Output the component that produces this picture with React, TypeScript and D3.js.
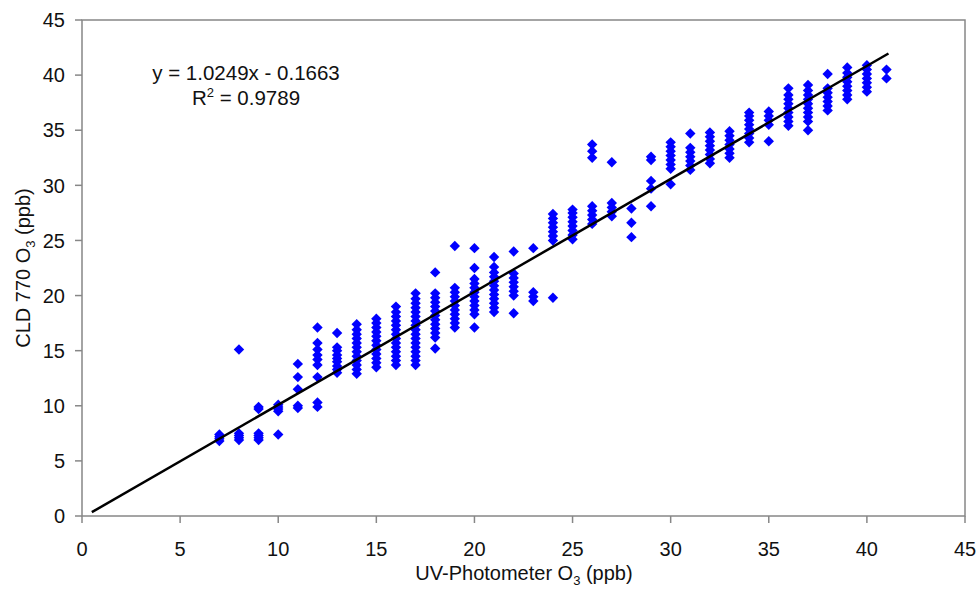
import React from "react";
import * as d3 from "d3";

// UV-Photometer O3 (ppb) columns
const xValues = [7, 8, 9, 10, 11, 12, 13, 14, 15, 16, 17, 18, 19, 20, 21, 22, 23, 24, 25, 26, 27, 28, 29, 30, 31, 32, 33, 34, 35, 36, 37, 38, 39, 40, 41];

// CLD 770 O3 (ppb) readings for each column
const yValues: number[][] = [
  [6.8, 7.0, 7.2, 7.4],
  [6.9, 7.1, 7.3, 7.5, 15.1],
  [6.9, 7.1, 7.3, 7.5, 9.7, 9.9],
  [7.4, 9.5, 9.7, 9.9, 10.1],
  [9.8, 10.0, 11.5, 12.6, 13.8],
  [9.9, 10.3, 12.6, 13.7, 14.2, 14.6, 15.1, 15.7, 17.1],
  [13.0, 13.3, 13.6, 14.0, 14.3, 14.6, 15.0, 15.3, 16.6],
  [12.9, 13.3, 13.7, 14.1, 14.5, 14.9, 15.3, 15.7, 16.1, 16.5, 16.9, 17.4],
  [13.5, 13.9, 14.3, 14.7, 15.1, 15.5, 15.9, 16.3, 16.7, 17.1, 17.5, 17.9],
  [13.7, 14.1, 14.5, 14.9, 15.3, 15.7, 16.1, 16.5, 16.9, 17.3, 17.7, 18.1, 18.5, 19.0],
  [13.7, 14.1, 14.5, 14.9, 15.3, 15.7, 16.1, 16.5, 16.9, 17.3, 17.7, 18.1, 18.5, 18.9, 19.3, 19.7, 20.2],
  [15.2, 16.2, 16.6, 17.0, 17.4, 17.8, 18.2, 18.6, 19.0, 19.4, 19.8, 20.2, 22.1],
  [17.1, 17.5, 17.9, 18.3, 18.7, 19.1, 19.5, 19.9, 20.3, 20.7, 24.5],
  [17.1, 18.3, 18.7, 19.1, 19.5, 19.9, 20.3, 20.7, 21.1, 21.5, 22.5, 24.3],
  [18.5, 18.9, 19.3, 19.7, 20.1, 20.5, 20.9, 21.3, 21.7, 22.1, 22.6, 23.5],
  [18.4, 20.0, 20.4, 20.8, 21.2, 21.6, 22.0, 24.0],
  [19.5, 19.9, 20.3, 24.3],
  [19.8, 25.0, 25.4, 25.8, 26.2, 26.6, 27.0, 27.4],
  [25.1, 25.5, 25.9, 26.3, 26.7, 27.1, 27.5, 27.8],
  [26.5, 26.9, 27.3, 27.7, 28.1, 32.5, 33.1, 33.7],
  [27.2, 27.6, 28.0, 28.4, 32.1],
  [25.3, 26.6, 27.9],
  [28.1, 29.7, 30.4, 32.3, 32.6],
  [30.1, 31.5, 31.9, 32.3, 32.7, 33.1, 33.5, 33.9],
  [31.4, 31.8, 32.2, 32.6, 33.0, 33.4, 34.7],
  [32.0, 32.4, 32.8, 33.2, 33.6, 34.0, 34.4, 34.8],
  [32.5, 32.9, 33.3, 33.7, 34.1, 34.5, 34.9],
  [33.9, 34.3, 34.7, 35.1, 35.5, 35.9, 36.3, 36.6],
  [34.0, 35.5, 35.9, 36.3, 36.7],
  [35.4, 35.8, 36.2, 36.6, 37.0, 37.4, 37.8, 38.2, 38.8],
  [35.0, 35.8, 36.2, 36.6, 37.0, 37.4, 37.8, 38.2, 38.6, 39.1],
  [36.8, 37.2, 37.6, 38.0, 38.4, 38.8, 40.1],
  [37.8, 38.2, 38.6, 39.0, 39.4, 39.8, 40.2, 40.7],
  [38.5, 38.9, 39.3, 39.7, 40.1, 40.5, 40.9],
  [39.7, 40.5],
];

const xTicks = [0, 5, 10, 15, 20, 25, 30, 35, 40, 45];
const yTicks = [0, 5, 10, 15, 20, 25, 30, 35, 40, 45];

const slope = 1.0249;
const intercept = -0.1663;
const fitRange = [0.5, 41.1];

const equationText = "y = 1.0249x - 0.1663";
const r2Value = "0.9789";

const W = 979;
const H = 590;
const left = 82;
const right = 965;
const top = 20;
const bottom = 516;

const FONT = "'Liberation Sans', Arial, Helvetica, sans-serif";
const FS = 20;

export default function App() {
  const x = d3.scaleLinear().domain([0, 45]).range([left, right]);
  const y = d3.scaleLinear().domain([0, 45]).range([bottom, top]);

  const points: { px: number; py: number }[] = [];
  xValues.forEach((xv, i) => {
    yValues[i].forEach((yv) => points.push({ px: x(xv), py: y(yv) }));
  });

  const r = 5.2;
  const diamond = `M0,${-r}L${r},0L0,${r}L${-r},0Z`;
  const line = d3
    .line<number>()
    .x((d) => x(d))
    .y((d) => y(slope * d + intercept));

  const axisColor = "#878787";

  return (
    <svg
      width={W}
      height={H}
      style={{ position: "absolute", left: 0, top: 0, background: "#fff" }}
      fontFamily={FONT}
    >
      <rect x={0} y={0} width={W} height={H} fill="#fff" />
      <rect
        x={left}
        y={top}
        width={right - left}
        height={bottom - top}
        fill="none"
        stroke={axisColor}
        strokeWidth={1.5}
      />
      {yTicks.map((t) => (
        <g key={"y" + t}>
          <line x1={left - 7} x2={left} y1={y(t)} y2={y(t)} stroke={axisColor} strokeWidth={1.5} />
          <text x={left - 17} y={y(t)} dy="0.36em" textAnchor="end" fontSize={FS} fill="#111">
            {t}
          </text>
        </g>
      ))}
      {xTicks.map((t) => (
        <g key={"x" + t}>
          <line x1={x(t)} x2={x(t)} y1={bottom} y2={bottom + 7} stroke={axisColor} strokeWidth={1.5} />
          <text x={x(t)} y={bottom + 40} textAnchor="middle" fontSize={FS} fill="#111">
            {t}
          </text>
        </g>
      ))}
      {points.map((p, i) => (
        <path key={i} d={diamond} transform={`translate(${p.px},${p.py})`} fill="#0000ff" />
      ))}
      <path d={line(fitRange) || ""} stroke="#000" strokeWidth={2.5} fill="none" />
      <text x={246} y={80} textAnchor="middle" fontSize={20.5} fill="#111">
        {equationText}
      </text>
      <text x={246} y={105} textAnchor="middle" fontSize={20.5} fill="#111">
        R<tspan dy={-8} fontSize={13}>2</tspan>
        <tspan dy={8}> = {r2Value}</tspan>
      </text>
      <text x={524} y={580} textAnchor="middle" fontSize={FS} fill="#111">
        UV-Photometer O<tspan dy={5} fontSize={13}>3</tspan>
        <tspan dy={-5}> (ppb)</tspan>
      </text>
      <text
        transform={`translate(30, ${(top + bottom) / 2}) rotate(-90)`}
        textAnchor="middle"
        fontSize={FS}
        fill="#111"
      >
        CLD 770 O<tspan dy={5} fontSize={13}>3</tspan>
        <tspan dy={-5}> (ppb)</tspan>
      </text>
    </svg>
  );
}
